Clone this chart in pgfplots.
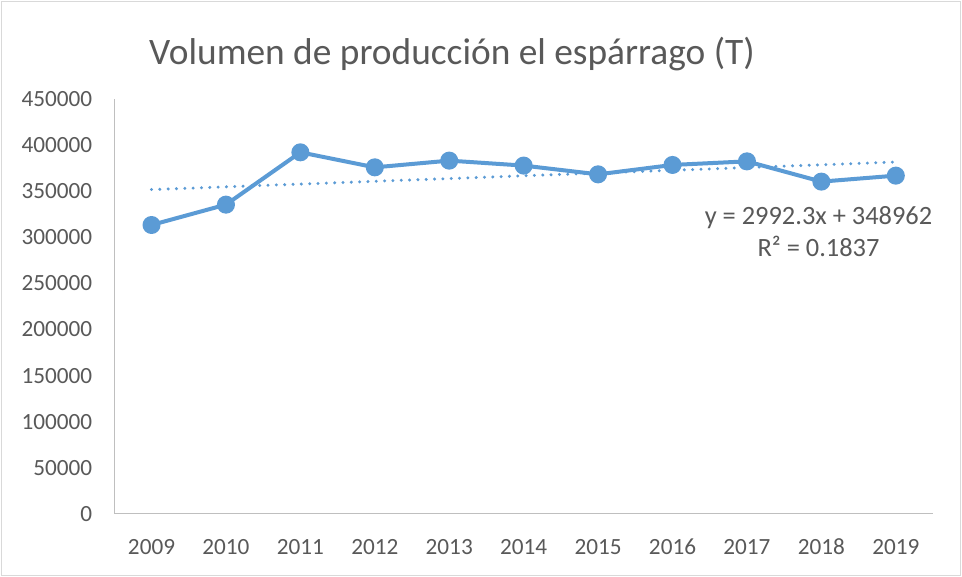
\documentclass[border=0pt]{standalone}
\usepackage{pgfplots}
\pgfplotsset{compat=1.18}
\usepackage{fontspec}
\setmainfont{Carlito}
\definecolor{exblue}{HTML}{5B9BD5}
\definecolor{txt}{HTML}{595959}
\definecolor{axl}{HTML}{BFBFBF}
\definecolor{brd}{HTML}{D9D9D9}
\begin{document}
\begin{tikzpicture}[x=1bp,y=1bp]
\path[use as bounding box] (0,0) rectangle (962,577);
\draw[brd, line width=1.5bp, fill=white] (1.5,1.5) rectangle (960.5,575.5);
\begin{axis}[at={(114.3bp,63.3bp)}, anchor=south west, scale only axis,
  width=818.7bp, height=414.4bp,
  xmin=-0.5, xmax=10.5, ymin=0, ymax=450000,
  axis x line*=bottom, axis y line*=left,
  axis line style={axl, line width=1.5bp, -},
  xtick={0,...,10},
  xticklabels={2009,2010,2011,2012,2013,2014,2015,2016,2017,2018,2019},
  ytick={0,50000,100000,150000,200000,250000,300000,350000,400000,450000},
  major tick length=0pt,
  scaled y ticks=false,
  /pgf/number format/assume math mode=true,
  yticklabel style={/pgf/number format/fixed, /pgf/number format/1000 sep={}, inner xsep=0pt, xshift=-22bp},
  xticklabel style={inner ysep=0pt, text height=14.8bp, text depth=0pt, yshift=-26bp},
  tick label style={font=\fontsize{23.3}{28}\selectfont, text=txt},
  clip=false,
]
\addplot[exblue, line width=3.3bp, line cap=round, dash pattern=on 0bp off 8.33bp]
  coordinates {(0,351954.3) (10,381877.3)};
\addplot[exblue, line width=4bp, line join=round, mark=*, mark size=7bp,
  mark options={solid, fill=exblue, draw=none}]
  coordinates {(0,313500) (1,335600) (2,392400) (3,376100) (4,383400) (5,378000)
               (6,368500) (7,378700) (8,382600) (9,360600) (10,367100)};
\end{axis}
\node[anchor=base, text=txt, font=\fontsize{37.5}{44}\selectfont, inner sep=0pt] at (452,512) {Volumen de producción el espárrago (T)};
\node[anchor=base, text=txt, font=\fontsize{26.5}{32}\selectfont, inner sep=0pt] at (818.5,352.5) {y = 2992.3x + 348962};
\node[anchor=base, text=txt, font=\fontsize{26.5}{32}\selectfont, inner sep=0pt] at (818.5,320.3) {R² = 0.1837};
\end{tikzpicture}
\end{document}
